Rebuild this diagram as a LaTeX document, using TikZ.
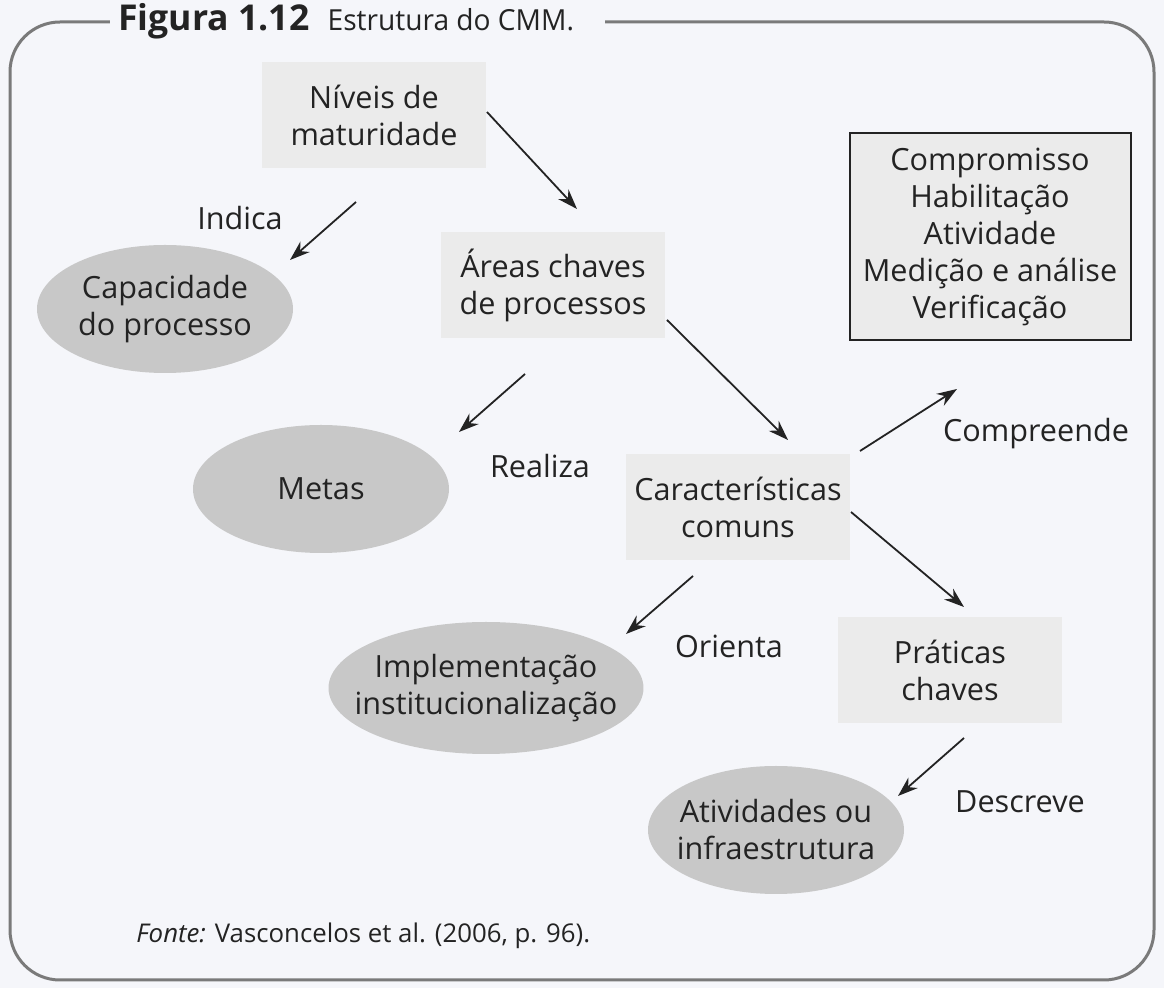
\documentclass[tikz,border=0pt]{standalone}
\usepackage{fontspec}
\setmainfont{Open Sans}
\usetikzlibrary{shapes.geometric,arrows.meta}
\definecolor{pagebg}{HTML}{F5F6FA}
\definecolor{boxgray}{HTML}{EBEBEB}
\definecolor{ellgray}{HTML}{C8C8C8}
\definecolor{framegray}{HTML}{7A7A7A}
\definecolor{inkgray}{HTML}{232323}
\begin{document}
\begin{tikzpicture}
[x=0.5pt,y=-0.5pt,
 textdecorate/.style={align=center,text=inkgray,font=\fontsize{15.3}{18.5}\selectfont},
 boxdecorate/.style={shape=rectangle,fill=boxgray,minimum width=112pt,minimum height=53pt,textdecorate},
 listdecorate/.style={shape=rectangle,fill=boxgray,draw=inkgray,line width=1pt,minimum width=140.5pt,minimum height=103.5pt,textdecorate},
 elldecorate/.style={shape=ellipse,fill=ellgray,inner xsep=-5pt,inner ysep=0pt,minimum width=128pt,minimum height=64pt,textdecorate},
 linedecorate/.style={-{Stealth[length=10pt,width=7pt]},line width=0.9pt,inkgray}]
%% page and frame
\fill[pagebg] (0,0) rectangle (1164,988);
\useasboundingbox (0,0) rectangle (1164,988);
\draw[framegray,line width=1.5pt,rounded corners=25pt] (10,22) rectangle (1154,980);
\fill[pagebg] (110,6) rectangle (605,38);
\node (title) at (118,21) [anchor=west,inner sep=0pt,text=inkgray]
  {\fontsize{17.8}{20}\selectfont\textbf{Figura 1.12}\hspace{9pt}%
   \scalebox{0.97}[1]{\fontsize{14.5}{20}\selectfont Estrutura do CMM.}};
%% boxes
\foreach \nodename/\x/\y/\txt in {niveis/374/115/Níveis de\\maturidade,
  areas/553/285/Áreas chaves\\de processos,
  caract/738/507/Características\\comuns,
  praticas/950/670/Práticas\\chaves} {
  \node (\nodename) at (\x,\y) [boxdecorate] {\txt};
}
\node (lista) at (990,237) [listdecorate]
  {Compromisso\\Habilitação\\Atividade\\Medição e análise\\Verificação};
%% ellipses
\foreach \nodename/\x/\y/\txt in {capacidade/165/309/Capacidade\\do processo,
  metas/321/489/Metas,
  atividades/776/830/Atividades ou\\infraestrutura} {
  \node (\nodename) at (\x,\y) [elldecorate] {\txt};
}
\node (implem) at (486,688) [elldecorate,inner xsep=-10pt,minimum width=155pt,minimum height=66pt]
  {Implementação\\institucionalização};
%% labels
\foreach \nodename/\x/\y/\txt in {indica/240/218/Indica, realiza/540/466/Realiza,
  compreende/1036/434/Compreende, orienta/729/646/Orienta,
  descreve/1020/802/Descreve} {
  \node (\nodename) at (\x,\y) [textdecorate] {\txt};
}
%% arrows
\foreach \name/\sx/\sy/\ex/\ey in {a/487/112/577/209, b/356/202/290/260,
  c/667/320/788/440, d/525/374/459/432, e/860/451/957/389,
  f/851/512/964/607, g/693/576/626/634, h/964/738/898/796} {
  \coordinate (\name start) at (\sx,\sy);
  \coordinate (\name end) at (\ex,\ey);
  \draw[linedecorate] (\name start) -- (\name end);
}
%% source
\node (fonte) at (136,936) [anchor=west,inner sep=0pt,text=inkgray,font=\fontsize{12.9}{15}\selectfont]
  {\textit{Fonte:} Vasconcelos et al. (2006, p. 96).};
\end{tikzpicture}
\end{document}
